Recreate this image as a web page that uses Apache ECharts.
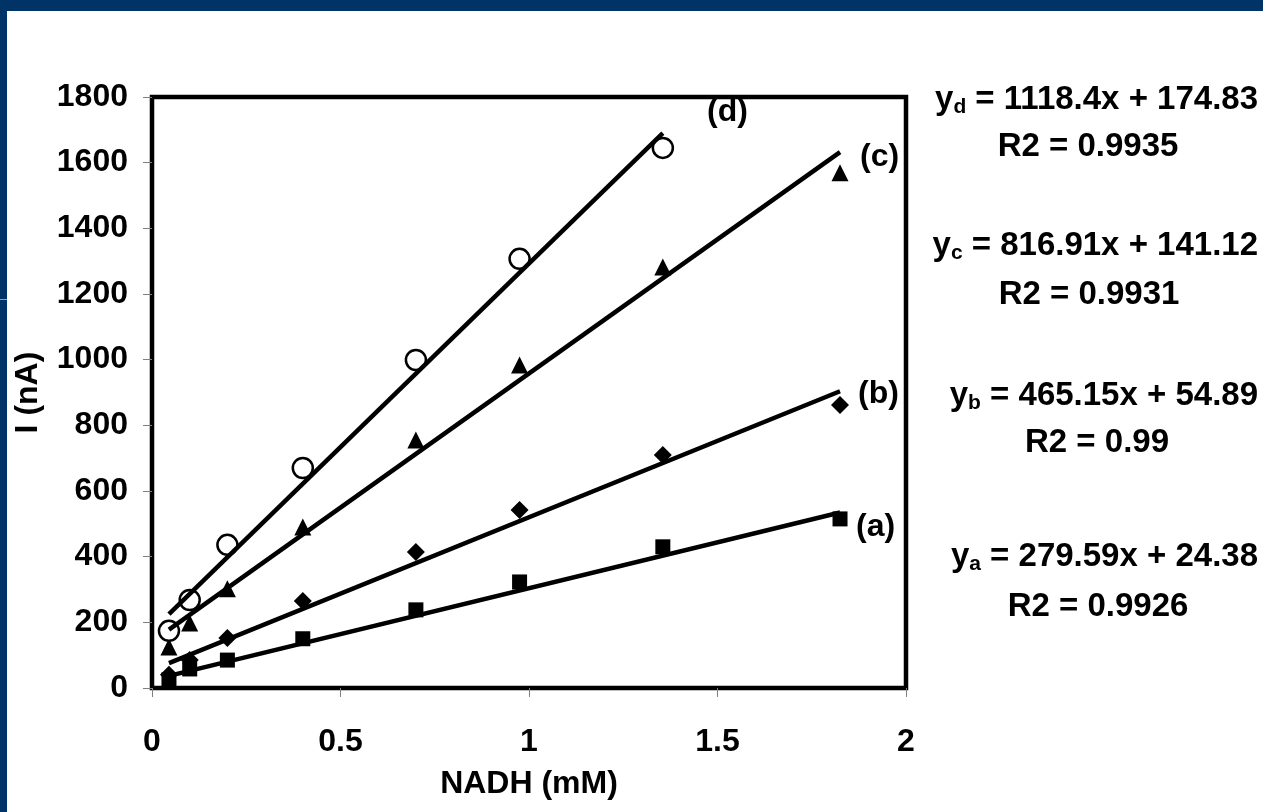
<!DOCTYPE html>
<html>
<head>
<meta charset="utf-8">
<script src="https://cdn.jsdelivr.net/npm/echarts@6/dist/echarts.min.js"></script>
<style>
  html, body { margin: 0; padding: 0; background: #003366; }
  #frame { position: absolute; left: 7px; top: 11px; right: 0; bottom: 0; background: #ffffff; }
  #chart { position: absolute; left: 0; top: 0; width: 1263px; height: 812px; }
</style>
</head>
<body>
<div id="frame"></div>
<div id="chart"></div>
<script>
// NADH concentration (mM) for each measurement
const xValues = [0.045, 0.1, 0.2, 0.4, 0.7, 0.975, 1.355, 1.825];
// Measured current (nA) for the four electrodes
const seriesA = [25, 58, 85, 150, 238, 323, 430, 515];
const seriesB = [40, 85, 152, 265, 414, 542, 710, 862];
const seriesC = [125, 198, 302, 490, 755, 984, 1282, 1569];
const seriesD = [174, 268, 436, 670, 999, 1307, 1645];
// Linear fits: slope, intercept, R2
const curveNames = ['a', 'b', 'c', 'd'];
const slopes = [279.59, 465.15, 816.91, 1118.4];
const intercepts = [24.38, 54.89, 141.12, 174.83];
const r2Values = ['0.9926', '0.99', '0.9931', '0.9935'];
const yTicks = [0, 200, 400, 600, 800, 1000, 1200, 1400, 1600, 1800];
const xTicks = [0, 0.5, 1, 1.5, 2];

const FONT = '"Liberation Sans", Arial, Helvetica, sans-serif';
const allSeries = [seriesA, seriesB, seriesC, seriesD];
const symbols = ['rect', 'diamond', 'triangle', 'circle'];
const symbolSizes = [15, 18, 17, 20];

const chart = echarts.init(document.getElementById('chart'), null, { renderer: 'canvas' });

const scatterSeries = allSeries.map((vals, i) => ({
  type: 'scatter',
  name: curveNames[i],
  data: vals.map((v, k) => [xValues[k], v]),
  symbol: symbols[i],
  symbolSize: symbolSizes[i],
  itemStyle: i === 3
    ? { color: '#ffffff', borderColor: '#000000', borderWidth: 2.5, opacity: 1 }
    : { color: '#000000', opacity: 1 },
  z: 3,
  silent: true
}));

const fitSeries = allSeries.map((vals, i) => {
  const x0 = xValues[0];
  const x1 = xValues[vals.length - 1];
  return {
    type: 'line',
    data: [[x0, slopes[i] * x0 + intercepts[i]], [x1, slopes[i] * x1 + intercepts[i]]],
    symbol: 'none',
    lineStyle: { color: '#000000', width: 4.5 },
    z: 4,
    silent: true
  };
});

const textStyle = { fontFamily: FONT, fontWeight: 'bold', fontSize: 32, fill: '#000' };

// curve tags next to the fitted lines
const tagPos = [[880, 530], [882, 397], [884, 160], [731, 115]];
const tags = curveNames.map((n, i) => ({
  type: 'text', left: tagPos[i][0] - 24, top: tagPos[i][1] - 19,
  style: Object.assign({ text: '(' + n + ')' }, textStyle), z: 10
}));

// fit equations and R2 on the right
const eqRows = [
  { i: 3, y: 100, r: 147, cx: 1088 },
  { i: 2, y: 246, r: 295, cx: 1089 },
  { i: 1, y: 396, r: 443, cx: 1097 },
  { i: 0, y: 557, r: 607, cx: 1098 }
];
const equations = [];
eqRows.forEach(row => {
  const i = row.i;
  equations.push({
    type: 'text', x: 1258, y: row.y,
    style: {
      text: '{m|y}{s|' + curveNames[i] + '}{m| = ' + slopes[i] + 'x + ' + intercepts[i] + '}',
      align: 'right', verticalAlign: 'middle',
      rich: {
        m: { fontFamily: FONT, fontWeight: 'bold', fontSize: 33, fill: '#000' },
        s: { fontFamily: FONT, fontWeight: 'bold', fontSize: 21, fill: '#000', padding: [14, 0, 0, 0] }
      }
    }, z: 10
  });
  equations.push({
    type: 'text', x: row.cx, y: row.r,
    style: {
      text: 'R2 = ' + r2Values[i], align: 'center', verticalAlign: 'middle',
      fontFamily: FONT, fontWeight: 'bold', fontSize: 33, fill: '#000'
    }, z: 10
  });
});

const option = {
  backgroundColor: 'transparent',
  animation: false,
  grid: {
    left: 152, right: 357, top: 97, bottom: 124,
    show: true, borderColor: '#000000', borderWidth: 4.5, backgroundColor: 'transparent'
  },
  xAxis: {
    type: 'value', min: 0, max: 2, interval: 0.5,
    name: 'NADH (mM)', nameLocation: 'middle', nameGap: 80,
    nameTextStyle: { fontFamily: FONT, fontWeight: 'bold', fontSize: 32, color: '#000' },
    axisLine: { show: false },
    axisTick: { show: true, inside: false, length: 9, lineStyle: { color: '#808080', width: 1 } },
    splitLine: { show: false },
    axisLabel: {
      margin: 38, fontFamily: FONT, fontWeight: 'bold', fontSize: 32, color: '#000',
      formatter: v => xTicks.indexOf(v) >= 0 ? String(v) : ''
    }
  },
  yAxis: {
    type: 'value', min: 0, max: 1800, interval: 200,
    name: 'I (nA)', nameLocation: 'middle', nameGap: 108, nameRotate: 90,
    nameTextStyle: { fontFamily: FONT, fontWeight: 'bold', fontSize: 32, color: '#000' },
    axisLine: { show: false },
    axisTick: { show: true, inside: false, length: 9, lineStyle: { color: '#808080', width: 1 } },
    splitLine: { show: false },
    axisLabel: {
      margin: 24, fontFamily: FONT, fontWeight: 'bold', fontSize: 32, color: '#000',
      formatter: v => yTicks.indexOf(v) >= 0 ? String(v) : ''
    }
  },
  graphic: [
    { type: 'rect', shape: { x: 0, y: 299, width: 7, height: 1 }, style: { fill: '#8fa3bf' }, z: 10 }
  ].concat(tags, equations),
  series: scatterSeries.concat(fitSeries)
};

chart.setOption(option);
</script>
</body>
</html>
